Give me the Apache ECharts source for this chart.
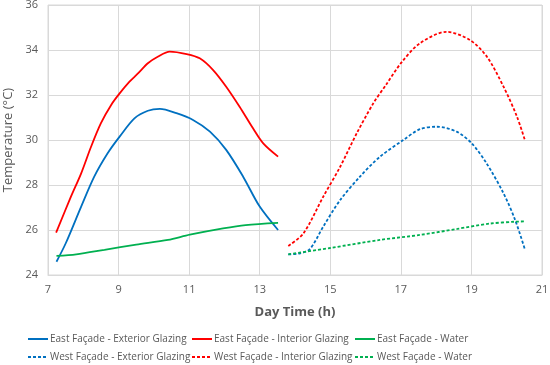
<!DOCTYPE html>
<html><head><meta charset="utf-8">
<script src="https://cdn.jsdelivr.net/npm/echarts@6/dist/echarts.min.js"></script>
<style>html,body{margin:0;padding:0;background:#fff}#c{width:550px;height:365px}</style>
</head><body><div id="c"></div>
<script>
const xTicks = [7, 9, 11, 13, 15, 17, 19, 21];
const yTicks = [24, 26, 28, 30, 32, 34, 36];
const seriesNames = [
  'East Façade - Exterior Glazing', 'East Façade - Interior Glazing', 'East Façade - Water',
  'West Façade - Exterior Glazing', 'West Façade - Interior Glazing', 'West Façade - Water'
];
const eastExterior = [[7.24,24.59],[7.5,25.4],[7.94,27.04],[8.31,28.37],[8.69,29.41],[9.03,30.15],[9.45,30.96],[9.83,31.3],[10.17,31.38],[10.64,31.19],[11.11,30.89],[11.59,30.37],[12.05,29.56],[12.53,28.37],[13.0,27.04],[13.52,26.0]];
const eastInterior = [[7.23,25.88],[7.65,27.48],[7.94,28.52],[8.22,29.7],[8.5,30.75],[8.79,31.56],[9.03,32.07],[9.31,32.59],[9.55,32.96],[9.83,33.41],[10.11,33.7],[10.45,33.93],[10.93,33.82],[11.3,33.63],[11.68,33.11],[12.05,32.37],[12.43,31.48],[12.81,30.52],[13.1,29.85],[13.52,29.26]];
const eastWater = [[7.24,24.85],[7.8,24.92],[8.6,25.12],[9.5,25.35],[10.4,25.56],[11.02,25.79],[11.96,26.07],[12.6,26.22],[13.52,26.32]];
const westExterior = [[13.81,24.92],[14.1,24.95],[14.42,25.15],[14.8,26.15],[15.28,27.33],[15.84,28.37],[16.41,29.26],[17.07,30.0],[17.54,30.48],[18.02,30.59],[18.58,30.37],[19.01,29.85],[19.43,28.96],[19.91,27.63],[20.24,26.44],[20.52,25.11]];
const westInterior = [[13.81,25.29],[14.24,25.85],[14.8,27.48],[15.28,28.81],[15.75,30.3],[16.22,31.63],[16.6,32.5],[17.02,33.45],[17.54,34.3],[18.3,34.81],[18.96,34.44],[19.44,33.7],[19.91,32.37],[20.29,31.04],[20.52,29.97]];
const westWater = [[13.81,24.92],[15.0,25.2],[16.41,25.56],[17.54,25.78],[18.6,26.05],[19.5,26.28],[20.24,26.37],[20.52,26.38]];

const colors = ['#0070C0', '#FF0000', '#00B050', '#0070C0', '#FF0000', '#00B050'];
const dataSets = [eastExterior, eastInterior, eastWater, westExterior, westInterior, westWater];
const dashed = [false, false, false, true, true, true];

const legendPos = [[27,334],[191,334],[354,334],[27,352],[191,352],[354,352]];
const font = 'Open Sans';
const grey = '#595959';

const chart = echarts.init(document.getElementById('c'));
chart.setOption({
  animation: false,
  textStyle: { fontFamily: font },
  grid: { left: 48, right: 8, top: 5, bottom: 90, show: true, borderColor: '#d9d9d9', borderWidth: 1, outerBoundsMode: 'none', containLabel: false },
  legend: seriesNames.map((n, i) => ({
    data: [n], left: legendPos[i][0], top: legendPos[i][1], itemWidth: 20, itemHeight: 8, itemGap: 3,
    padding: 0, itemStyle: { opacity: 0 },
    textStyle: { color: grey, fontSize: 10, fontFamily: font, padding: [0,0,0,-3] }
  })),
  xAxis: {
    type: 'value', min: xTicks[0], max: xTicks[xTicks.length - 1], interval: 2,
    name: 'Day Time (h)', nameLocation: 'middle', nameGap: 31,
    nameTextStyle: { color: grey, fontSize: 13, fontWeight: 'bold', fontFamily: font },
    axisLine: { show: true, lineStyle: { color: '#d9d9d9' } }, axisTick: { show: false },
    axisLabel: { color: grey, fontSize: 11, margin: 9 },
    splitLine: { show: true, lineStyle: { color: '#d9d9d9' } }
  },
  yAxis: {
    type: 'value', min: yTicks[0], max: yTicks[yTicks.length - 1], interval: 2,
    name: 'Temperature (°C)', nameLocation: 'middle', nameGap: 28,
    nameTextStyle: { color: grey, fontSize: 13, fontFamily: font },
    axisLine: { show: false }, axisTick: { show: false },
    axisLabel: { color: grey, fontSize: 11, margin: 10 },
    splitLine: { show: true, lineStyle: { color: '#d9d9d9' } }
  },
  series: seriesNames.map((n, i) => ({
    name: n, type: 'line', data: dataSets[i], smooth: 0.3, symbol: 'none',
    lineStyle: { color: colors[i], width: 1.8, type: dashed[i] ? [3, 2] : 'solid' },
    itemStyle: { color: colors[i] }
  }))
});
</script></body></html>
